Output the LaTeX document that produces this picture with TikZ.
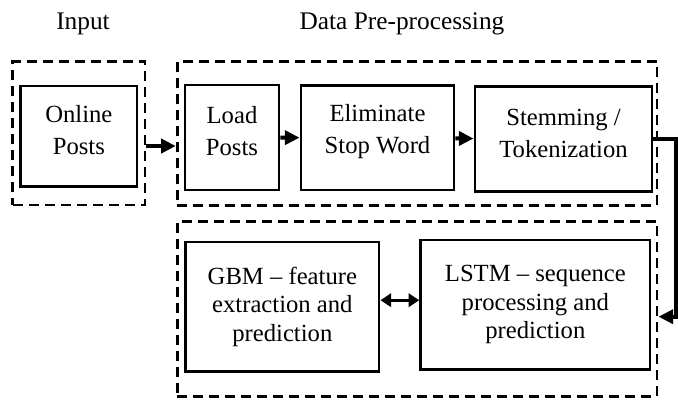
\documentclass[tikz,border=0pt]{standalone}
\usepackage{fontspec}
\setmainfont{Liberation Serif}
\usepackage{tikz}
\usetikzlibrary{arrows.meta}

\tikzset{
    step box/.style={draw, line width=2.2pt, inner sep=0pt, align=center,
        font=\fontsize{18.5}{21.5}\selectfont},
    step text/.style={align=center, yshift=4.5pt, font=\fontsize{18.5}{24}\selectfont},
    stage box/.style={draw, line width=2.2pt, dash pattern=on 7.5pt off 4.5pt, inner sep=0pt},
    title/.style={font=\fontsize{19}{23}\selectfont},
    arr/.style={line width=3pt, -{Triangle[length=11pt,width=10.5pt]}},
    dblarr/.style={line width=2.2pt, {Triangle[length=8pt,width=10pt]}-{Triangle[length=8pt,width=10pt]}}
}

\begin{document}
\begin{tikzpicture}[x=0.75pt, y=-0.75pt]
    \useasboundingbox (0, 0) rectangle (678, 401);
%%   kw   (name)   (x, y)   {text}
    \node[title] (ttlin)  at (83, 24)  {Input};
    \node[title] (ttlpre) at (402, 24) {Data Pre-processing};

    \node[stage box, minimum width=99.2pt,  minimum height=107.5pt]  (inbox)  at (78.85, 133.35)  {};
    \node[stage box, minimum width=359.8pt, minimum height=108pt]    (prebox) at (417.15, 133.7)  {};
    \node[stage box, minimum width=359.8pt, minimum height=131.25pt] (modbox) at (417.15, 309.2)  {};

    \node[step box, minimum width=87.2pt,  minimum height=75.5pt,
          label={[step text]center:{Online\\Posts}}]  (posts) at (78.85, 136.35) {};
    \node[step box, minimum width=70.5pt,  minimum height=78.75pt,
          label={[step text]center:{Load\\Posts}}] (load)  at (232, 137.5) {};
    \node[step box, minimum width=114.75pt, minimum height=78.2pt,
          label={[step text]center:{Eliminate\\Stop Word}}] (elim)  at (377.5, 137.85) {};
    \node[step box, minimum width=132.75pt, minimum height=78.75pt,
          label={[step text]center:{Stemming /\\Tokenization}}] (stem) at (563.5, 139.2) {};
    \node[step box, minimum width=145pt,   minimum height=97.3pt]  (gbm)   at (282.35, 306.85) {GBM -- feature\\extraction and\\prediction};
    \node[step box, minimum width=172pt,   minimum height=97pt]    (lstm)  at (535.35, 304.65) {LSTM -- sequence\\processing and\\prediction};

    \coordinate (a1) at ([yshift=-9.5pt]inbox.east);
    \coordinate (c1) at (676, 139);
    \coordinate (c2) at (676, 316.7);
    \coordinate (d1) at ([yshift=5pt]gbm.east);

    \draw[arr] (a1) -- (a1 -| prebox.west);
    \draw[arr] (load) -- (elim);
    \draw[arr] (elim) -- (stem);
    \draw[arr] (stem.east |- c1) -- (c1) -- (c2) -- (c2 -| modbox.east);
    \draw[dblarr] (d1) -- (d1 -| lstm.west);
\end{tikzpicture}
\end{document}
